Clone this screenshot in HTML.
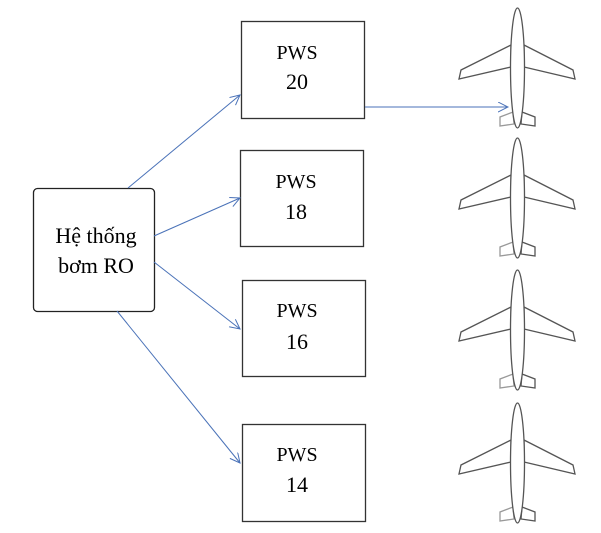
<!DOCTYPE html>
<html><head><meta charset="utf-8"><style>
html,body{margin:0;padding:0;background:#fff;width:601px;height:533px;overflow:hidden}
text{font-family:"Liberation Serif",serif;fill:#000}
</style></head><body>
<svg width="601" height="533" viewBox="0 0 601 533" xmlns="http://www.w3.org/2000/svg">
<defs>
<marker id="a" markerWidth="12" markerHeight="12" refX="10" refY="5" orient="auto" markerUnits="userSpaceOnUse">
<path d="M0,0 L10,5 L0,10" fill="none" stroke="#4a72b8" stroke-width="1"/>
</marker>
<g id="plane" fill="#fff" stroke="#555" stroke-width="1.3">
<polygon points="511,45 461,70 459,79 511,67"/>
<polygon points="524,45 573,70 575,79 524,67"/>
<polygon points="513,112 500,117 500,126 514,124" stroke="#999"/>
<polygon points="522,112 535,117 535,126 521,124"/>
<ellipse cx="517.5" cy="68" rx="7" ry="60"/>
</g>
</defs>
<rect x="33.5" y="188.5" width="121" height="123" rx="4" fill="#fff" stroke="#222" stroke-width="1.3"/>
<text x="96" y="243" font-size="22" text-anchor="middle">Hệ thống</text>
<text x="96" y="273" font-size="22" text-anchor="middle">bơm RO</text>
<g fill="#fff" stroke="#333" stroke-width="1.3">
<rect x="241.5" y="21.5" width="123" height="97"/>
<rect x="240.5" y="150.5" width="123" height="96"/>
<rect x="242.5" y="280.5" width="123" height="96"/>
<rect x="242.5" y="424.5" width="123" height="97"/>
</g>
<g font-size="20" text-anchor="middle">
<text x="297" y="59">PWS</text><text x="297" y="89" font-size="22">20</text>
<text x="296" y="188">PWS</text><text x="296" y="219" font-size="22">18</text>
<text x="297" y="317">PWS</text><text x="297" y="349" font-size="22">16</text>
<text x="297" y="461">PWS</text><text x="297" y="492" font-size="22">14</text>
</g>
<g stroke="#4a72b8" stroke-width="1" marker-end="url(#a)">
<line x1="128" y1="188" x2="240" y2="95"/>
<line x1="154" y1="236" x2="240" y2="198"/>
<line x1="154" y1="262" x2="240" y2="329"/>
<line x1="117" y1="311" x2="240" y2="463"/>
<line x1="365" y1="107" x2="508" y2="107"/>
</g>
<use href="#plane"/>
<use href="#plane" y="130"/>
<use href="#plane" y="262"/>
<use href="#plane" y="395"/>
</svg>
</body></html>
